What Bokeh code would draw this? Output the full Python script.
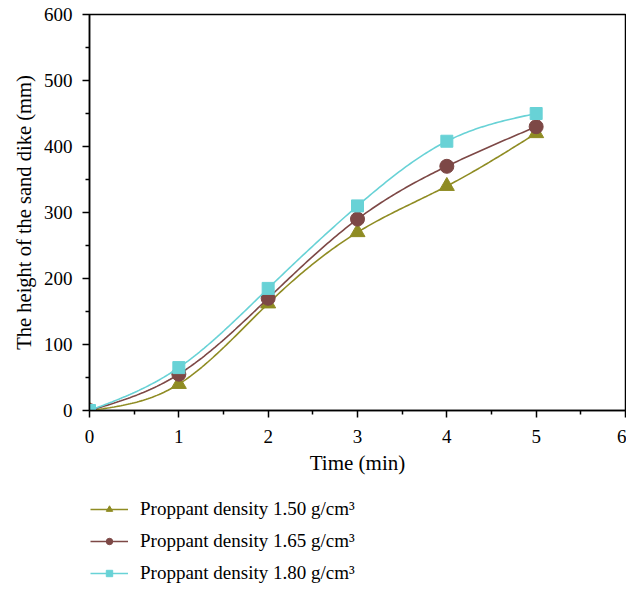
import numpy as np
from bokeh.plotting import figure
from bokeh.layouts import column
from bokeh.models import Legend, LegendItem, Range1d, FixedTicker
from bokeh.embed import file_html
from bokeh.resources import INLINE

time_min = [0, 1, 2, 3, 4, 5]
h_150 = [0, 40, 162, 270, 340, 420]
h_165 = [0, 55, 170, 290, 370, 430]
h_180 = [0, 65, 185, 310, 408, 450]
labels = ["Proppant density 1.50 g/cm³",
          "Proppant density 1.65 g/cm³",
          "Proppant density 1.80 g/cm³"]
colors = ["#8F8C23", "#7D4846", "#68D2D6"]
markers = ["triangle", "circle", "square"]
marker_sizes = [15, 14, 12]

FONT = "Liberation Serif"


def natural_spline(x, y, n=200):
    x = np.asarray(x, float)
    y = np.asarray(y, float)
    k = len(x)
    h = np.diff(x)
    A = np.zeros((k, k))
    b = np.zeros(k)
    A[0, 0] = 1
    A[-1, -1] = 1
    for i in range(1, k - 1):
        A[i, i - 1] = h[i - 1]
        A[i, i] = 2 * (h[i - 1] + h[i])
        A[i, i + 1] = h[i]
        b[i] = 3 * ((y[i + 1] - y[i]) / h[i] - (y[i] - y[i - 1]) / h[i - 1])
    c = np.linalg.solve(A, b)
    xs = np.linspace(x[0], x[-1], n)
    ys = np.empty_like(xs)
    for j, xv in enumerate(xs):
        i = min(np.searchsorted(x, xv, side="right") - 1, k - 2)
        dx = xv - x[i]
        bb = (y[i + 1] - y[i]) / h[i] - h[i] * (c[i + 1] + 2 * c[i]) / 3
        d = (c[i + 1] - c[i]) / (3 * h[i])
        ys[j] = y[i] + bb * dx + c[i] * dx ** 2 + d * dx ** 3
    return xs, ys


p = figure(width=626, height=490, output_backend="svg", toolbar_location=None,
           x_range=Range1d(0, 6), y_range=Range1d(0, 600),
           min_border_left=89, min_border_right=1, min_border_top=14,
           min_border_bottom=80)
p.xgrid.visible = False
p.ygrid.visible = False
p.outline_line_color = "black"
p.outline_line_width = 1.5
p.background_fill_color = "white"

for ax in (p.xaxis[0], p.yaxis[0]):
    ax.axis_line_width = 1.5
    ax.axis_line_color = "black"
    ax.major_tick_line_width = 1.5
    ax.minor_tick_line_width = 1.5
    ax.major_tick_in = 0
    ax.major_tick_out = 7
    ax.minor_tick_in = 0
    ax.minor_tick_out = 4
    ax.major_label_text_font = FONT
    ax.major_label_text_font_size = "19px"
    ax.major_label_text_color = "black"
    ax.axis_label_text_font = FONT
    ax.axis_label_text_font_style = "normal"
    ax.axis_label_text_color = "black"

p.xaxis[0].axis_label_text_font_size = "21px"
p.yaxis[0].axis_label_text_font_size = "20.5px"
p.xaxis[0].ticker = FixedTicker(ticks=[0, 1, 2, 3, 4, 5, 6],
                                minor_ticks=[0.5, 1.5, 2.5, 3.5, 4.5, 5.5])
p.yaxis[0].ticker = FixedTicker(ticks=[0, 100, 200, 300, 400, 500, 600],
                                minor_ticks=[50, 150, 250, 350, 450, 550])
p.xaxis[0].axis_label = "Time (min)"
p.yaxis[0].axis_label = "The height of the sand dike (mm)"
p.xaxis[0].major_label_standoff = 12
p.yaxis[0].major_label_standoff = 10
p.xaxis[0].axis_label_standoff = 5
p.yaxis[0].axis_label_standoff = 6

series = [h_150, h_165, h_180]
for ys_data, col, mk, ms in zip(series, colors, markers, marker_sizes):
    sx, sy = natural_spline(time_min, ys_data)
    p.line(sx, sy, line_color=col, line_width=1.6)
    p.scatter(time_min, ys_data, marker=mk, size=ms, fill_color=col, line_color=col)

# legend panel below the chart (its frame is aligned with the chart frame)
lf = figure(width=626, height=99, output_backend="svg", toolbar_location=None,
            x_range=Range1d(0, 1), y_range=Range1d(0, 1),
            min_border_left=0, min_border_right=0, min_border_top=0,
            min_border_bottom=0)
lf.axis.visible = False
lf.xgrid.visible = False
lf.ygrid.visible = False
lf.outline_line_color = None

items = []
for col, mk, ms, lab in zip(colors, markers, marker_sizes, labels):
    # proxy renderers kept outside the visible range, only used for legend glyphs
    r_line = lf.line([-5, -4], [-5, -4], line_color=col, line_width=1.6)
    r_m = lf.scatter([-5], [-5], marker=mk, size=ms - 1, fill_color=col, line_color=col)
    items.append(LegendItem(label=lab, renderers=[r_line, r_m]))

legend = Legend(items=items, orientation="vertical", location=(1, 5),
                label_text_font=FONT, label_text_font_size="19px",
                label_text_color="black",
                glyph_width=38, glyph_height=16, label_height=16,
                spacing=10, padding=0, margin=0, label_standoff=12,
                border_line_color=None, background_fill_alpha=0)
lf.add_layout(legend, "center")

open("out.html", "w").write(file_html(column(p, lf, spacing=0), INLINE))
